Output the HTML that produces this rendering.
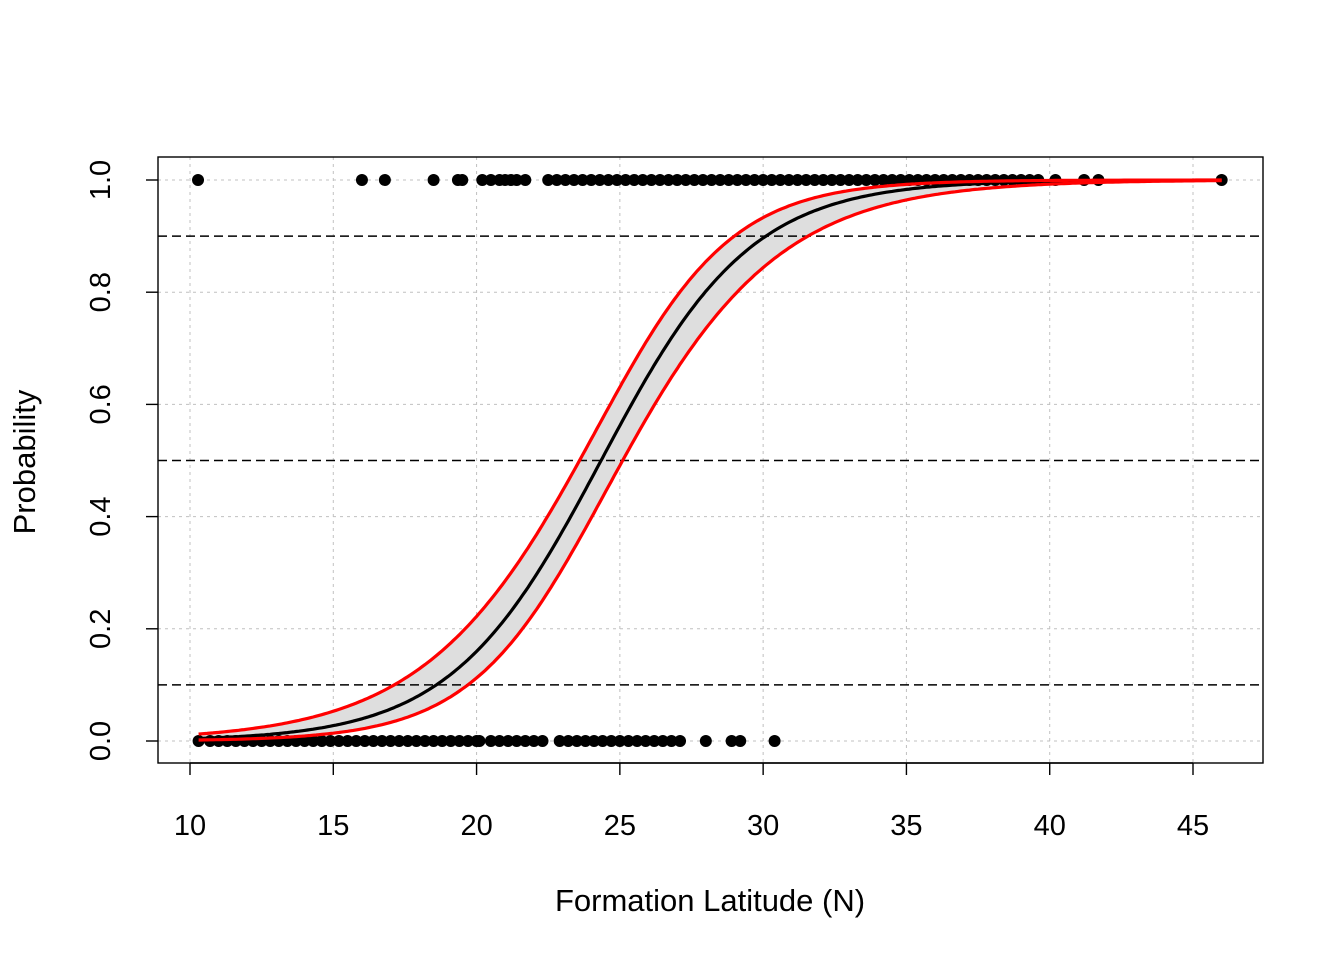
<!DOCTYPE html>
<html><head><meta charset="utf-8"><style>body{margin:0;background:#fff}svg{display:block}text{font-family:"Liberation Sans",Arial,sans-serif;fill:#000}</style></head>
<body>
<svg id="chart" width="1344" height="960"></svg>
<script>
const xTicks=[10,15,20,25,30,35,40,45];
const yTicks=[0,0.2,0.4,0.6,0.8,1.0];
const yTickLabels=["0.0","0.2","0.4","0.6","0.8","1.0"];
const refLines=[0.1,0.5,0.9];
const coefIntercept=-9.30, coefSlope=0.382, centerX=24.35;
const ciBase=0.08, ciSlope=0.0045;
const pointsOne=[10.28,16.0,16.8,18.5,19.35,19.5,20.2,20.5,20.8,21.0,21.2,21.4,21.7,
22.5,22.8,23.1,23.4,23.7,24.0,24.3,24.6,24.9,25.2,25.5,25.8,26.1,26.4,26.7,27.0,27.3,27.6,27.9,28.2,28.5,28.8,29.1,29.4,29.7,30.0,30.3,30.6,30.9,31.2,31.5,31.8,32.1,32.4,32.7,33.0,33.3,33.6,33.9,34.2,34.5,34.8,35.1,35.4,35.7,36.0,36.3,36.6,36.9,37.2,37.5,37.8,38.1,38.4,38.7,39.0,39.3,39.6,40.2,41.2,41.7,46.0];
const pointsZero=[10.3,10.7,11.0,11.3,11.6,11.9,12.2,12.5,12.8,13.1,13.4,13.7,14.0,14.3,14.6,14.9,15.2,15.5,15.8,16.1,16.4,16.7,17.0,17.3,17.6,17.9,18.2,18.5,18.8,19.1,19.4,19.7,20.0,20.1,
20.5,20.8,21.1,21.4,21.7,22.0,22.3,22.9,23.2,23.5,23.8,24.1,24.4,24.7,25.0,25.3,25.6,25.9,26.2,26.5,26.8,27.1,28.0,28.9,29.2,30.4];
const NS="http://www.w3.org/2000/svg";
const svg=document.getElementById('chart');
const X0=158,X1=1263,Y0=157,Y1=763;
const sx=v=>190+(v-10)*(1193-190)/35;
const sy=v=>741-v*(741-180);
function mk(tag,attrs,parent){const e=document.createElementNS(NS,tag);for(const k in attrs)e.setAttribute(k,attrs[k]);(parent||svg).appendChild(e);return e;}
const inv=l=>1/(1+Math.exp(-l));
xTicks.forEach(t=>{const l=mk('line',{x1:sx(t),x2:sx(t),y1:Y0,y2:Y1,stroke:'#c0c0c0','stroke-dasharray':'3,4'});

});
yTicks.forEach(t=>{const l=mk('line',{x1:X0,x2:X1,y1:sy(t),y2:sy(t),stroke:'#c0c0c0','stroke-dasharray':'3,4'});

});
const xs=[];for(let v=10.3;v<=46.0001;v+=0.1)xs.push(v);
const fit=v=>coefIntercept+coefSlope*v;
const half=v=>Math.sqrt(ciBase+ciSlope*(v-centerX)*(v-centerX));
const up=xs.map(v=>[sx(v),sy(inv(fit(v)+half(v)))]);
const lo=xs.map(v=>[sx(v),sy(inv(fit(v)-half(v)))]);
const mid=xs.map(v=>[sx(v),sy(inv(fit(v)))]);
const pstr=a=>a.map(p=>p[0].toFixed(1)+','+p[1].toFixed(1)).join(' ');
const band=mk('polygon',{points:pstr(up.concat(lo.slice().reverse())),fill:'#dedede',stroke:'none'});


pointsOne.forEach(v=>{const c=mk('circle',{cx:sx(v),cy:sy(1),r:6,fill:'#000'});

});
pointsZero.forEach(v=>{const c=mk('circle',{cx:sx(v),cy:sy(0),r:6,fill:'#000'});

});
refLines.forEach(r=>{const l=mk('line',{x1:X0,x2:X1,y1:sy(r),y2:sy(r),stroke:'#000','stroke-width':1.5,'stroke-dasharray':'9,5'});

});
const m=mk('polyline',{points:pstr(mid),fill:'none',stroke:'#000','stroke-width':3.2});


const u=mk('polyline',{points:pstr(up),fill:'none',stroke:'#f00','stroke-width':3.2});


const lw=mk('polyline',{points:pstr(lo),fill:'none',stroke:'#f00','stroke-width':3.2});


const fr=mk('rect',{x:X0,y:Y0,width:X1-X0,height:Y1-Y0,fill:'none',stroke:'#000','stroke-width':1.4});


const xa=mk('line',{x1:sx(10),x2:sx(45),y1:Y1,y2:Y1,stroke:'#000','stroke-width':1.4});


xTicks.forEach(t=>{mk('line',{x1:sx(t),x2:sx(t),y1:Y1,y2:Y1+12,stroke:'#000','stroke-width':1.4});
const tx=mk('text',{x:sx(t),y:835,'font-size':29,'text-anchor':'middle'});tx.textContent=t;

});
yTicks.forEach((t,i)=>{mk('line',{x1:X0-12,x2:X0,y1:sy(t),y2:sy(t),stroke:'#000','stroke-width':1.4});
const tx=mk('text',{x:0,y:0,'font-size':29,'text-anchor':'middle',transform:`translate(110,${sy(t)}) rotate(-90)`});tx.textContent=yTickLabels[i];

});
const xt=mk('text',{x:710,y:911,'font-size':31,'text-anchor':'middle'});xt.textContent='Formation Latitude (N)';


const yt=mk('text',{x:0,y:0,'font-size':31,'text-anchor':'middle',transform:'translate(35,462) rotate(-90)'});yt.textContent='Probability';


</script>
</body></html>
